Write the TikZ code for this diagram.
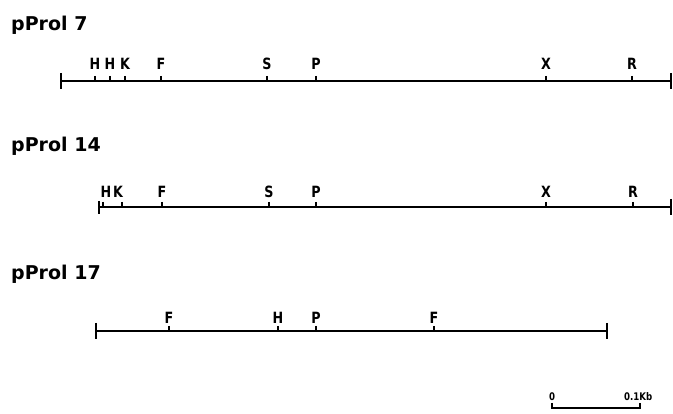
\documentclass[tikz,border=0pt]{standalone}
\usepackage{fontspec}
\setmainfont{DejaVu Sans}
\newfontfamily\labfont[FakeStretch=0.82]{DejaVu Sans}
\begin{document}
\begin{tikzpicture}[x=1pt,y=-1pt,
  mapline/.style={line width=1.9pt},
  endtick/.style={line width=1.9pt},
  site/.style={line width=1.7pt},
  lab/.style={font=\labfont\bfseries\fontsize{15.5}{15.5}\selectfont, inner sep=0pt, anchor=base},
  title/.style={font=\bfseries\fontsize{19}{19}\selectfont, inner sep=0pt, anchor=base west},
  slab/.style={font=\labfont\bfseries\fontsize{10.5}{10.5}\selectfont, inner sep=0pt, anchor=base}]
\useasboundingbox (0,0) rectangle (673,414);
% ---- pProl 7
\node[title] (t7) at (11,31) {pProl 7};
\coordinate (a1) at (61,81); \coordinate (b1) at (671,81);
\draw[mapline] (a1) -- (b1);
\draw[endtick] (61,73) -- (61,89);
\draw[endtick] (671,73) -- (671,89);
\foreach \x/\l in {95/H,110/H,125/K,161/F,267/S,316/P,546/X,632/R}{
  \draw[site] (\x,76) -- (\x,81);
  \node[lab] at (\x,70) {\l};
}
% ---- pProl 14
\node[title] (t14) at (11,152) {pProl 14};
\coordinate (a2) at (99,207); \coordinate (b2) at (671,207);
\draw[mapline] (a2) -- (b2);
\draw[endtick] (99,201) -- (99,214);
\draw[endtick] (671,199) -- (671,215);
\foreach \x in {103,122,162,269,316,546,633}{
  \draw[site] (\x,202) -- (\x,207);
}
\foreach \x/\l in {106/H,118/K,162/F,269/S,316/P,546/X,633/R}{
  \node[lab] at (\x,198) {\l};
}
% ---- pProl 17
\node[title] (t17) at (11,280) {pProl 17};
\coordinate (a3) at (96,331); \coordinate (b3) at (607,331);
\draw[mapline] (a3) -- (b3);
\draw[endtick] (96,323) -- (96,339);
\draw[endtick] (607,323) -- (607,339);
\foreach \x/\l in {169/F,278/H,316/P,434/F}{
  \draw[site] (\x,326) -- (\x,331);
  \node[lab] at (\x,324) {\l};
}
% ---- scale bar
\coordinate (s0) at (552,408); \coordinate (s1) at (640,408);
\draw[line width=1.3pt] (s0) -- (s1);
\draw[line width=1.3pt] (552,403) -- (552,408.6);
\draw[line width=1.3pt] (640,403) -- (640,408.6);
\node[slab] (z) at (552,401) {0};
\node[slab, anchor=base west] (k) at (624,401) {0.1Kb};
\end{tikzpicture}
\end{document}
